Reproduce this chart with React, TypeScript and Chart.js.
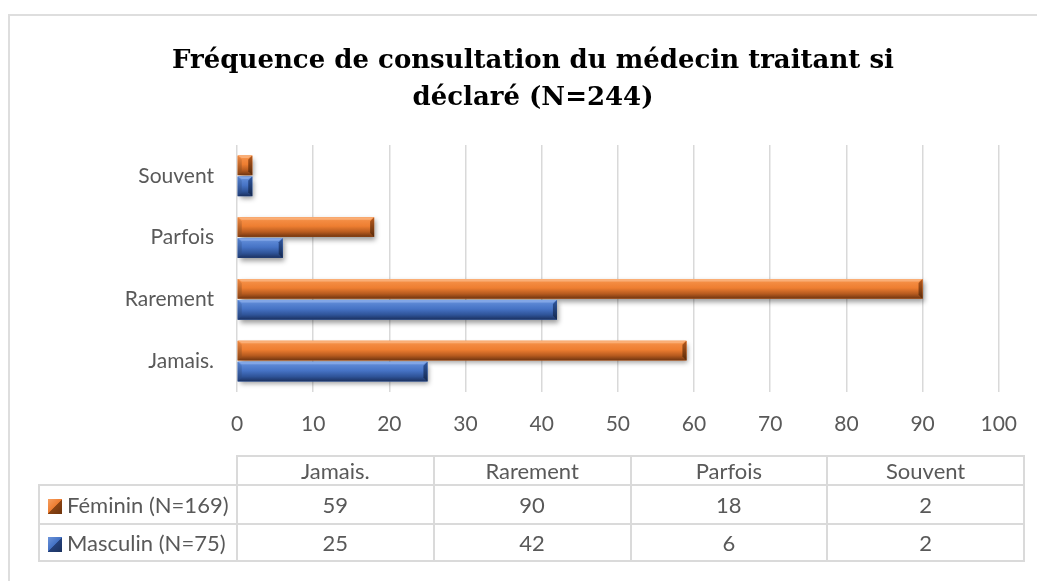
import React, { useEffect, useRef } from 'react';
import { Chart, registerables } from 'chart.js';

Chart.register(...registerables);

// ---------- data ----------
const categories = ['Jamais.', 'Rarement', 'Parfois', 'Souvent'];
const feminin = [59, 90, 18, 2];
const masculin = [25, 42, 6, 2];
const seriesNames = ['Féminin (N=169)', 'Masculin (N=75)'];
const titleLines = ['Fréquence de consultation du médecin traitant si', 'déclaré (N=244)'];
const xMin = 0;
const xMax = 100;
const xStep = 10;

// ---------- styles ----------
const LABEL_FONT = 'Lato';
const TEXT_COLOR = '#595959';
const GRID_COLOR = '#d9d9d9';

const palettes = [
  {
    main: '#ED7D31',
    topFacet: '#FAAE76',
    face: ['#F79A55', '#F38A40', '#EE7E31', '#B75B1F', '#703510'],
    side: ['#B65A1E', '#5A2A09'],
    leftSide: ['#F08840', '#8A4414'],
  },
  {
    main: '#4472C4',
    topFacet: '#82A6E6',
    face: ['#6E97DE', '#5884D2', '#4673C5', '#2F5499', '#1B3160'],
    side: ['#30579F', '#14284E'],
    leftSide: ['#5582D0', '#22407A'],
  },
];

const bevelPlugin = {
  id: 'bevel3d',
  beforeDatasetsDraw(chart: any) {
    const ctx = chart.ctx;
    ctx.save();
    ctx.shadowColor = 'rgba(0,0,0,0.4)';
    ctx.shadowBlur = 5;
    ctx.shadowOffsetX = 2;
    ctx.shadowOffsetY = 3;
  },
  afterDatasetsDraw(chart: any) {
    const ctx = chart.ctx;
    ctx.restore();
    chart.data.datasets.forEach((ds: any, di: number) => {
      const meta = chart.getDatasetMeta(di);
      if (meta.hidden) return;
      const pal = palettes[di];
      meta.data.forEach((el: any) => {
        const top = el.y - el.height / 2;
        const bot = el.y + el.height / 2;
        const left = Math.min(el.base, el.x);
        const right = Math.max(el.base, el.x);
        const w = right - left;
        const h = bot - top;
        if (w <= 0 || h <= 0) return;
        const b = Math.min(4, w / 3, h / 4);
        ctx.save();
        // main face
        const g = ctx.createLinearGradient(0, top, 0, bot);
        g.addColorStop(0, pal.face[0]);
        g.addColorStop(0.2, pal.face[1]);
        g.addColorStop(0.45, pal.face[2]);
        g.addColorStop(0.75, pal.face[3]);
        g.addColorStop(1, pal.face[4]);
        ctx.fillStyle = g;
        ctx.fillRect(left, top, w, h);
        // top facet
        ctx.fillStyle = pal.topFacet;
        ctx.beginPath();
        ctx.moveTo(left, top);
        ctx.lineTo(right, top);
        ctx.lineTo(right - b, top + 2.5);
        ctx.lineTo(left + b, top + 2.5);
        ctx.closePath();
        ctx.fill();
        // left facet
        const gl = ctx.createLinearGradient(0, top, 0, bot);
        gl.addColorStop(0, pal.leftSide[0]);
        gl.addColorStop(1, pal.leftSide[1]);
        ctx.fillStyle = gl;
        ctx.beginPath();
        ctx.moveTo(left, top);
        ctx.lineTo(left + b, top + b);
        ctx.lineTo(left + b, bot - b);
        ctx.lineTo(left, bot);
        ctx.closePath();
        ctx.fill();
        // right facet
        const gs = ctx.createLinearGradient(0, top, 0, bot);
        gs.addColorStop(0, pal.side[0]);
        gs.addColorStop(1, pal.side[1]);
        ctx.fillStyle = gs;
        ctx.beginPath();
        ctx.moveTo(right, top);
        ctx.lineTo(right, bot);
        ctx.lineTo(right - b, bot - b);
        ctx.lineTo(right - b, top + b);
        ctx.closePath();
        ctx.fill();
        ctx.restore();
      });
    });
  },
};

export default function App() {
  const canvasRef = useRef<HTMLCanvasElement | null>(null);

  useEffect(() => {
    if (!canvasRef.current) return;
    const chart = new Chart(canvasRef.current, {
      type: 'bar',
      data: {
        labels: categories,
        datasets: [
          {
            label: seriesNames[0],
            data: feminin,
            backgroundColor: palettes[0].main,
            borderWidth: 0,
            categoryPercentage: 0.68,
            barPercentage: 0.93,
          },
          {
            label: seriesNames[1],
            data: masculin,
            backgroundColor: palettes[1].main,
            borderWidth: 0,
            categoryPercentage: 0.68,
            barPercentage: 0.93,
          },
        ],
      },
      options: {
        indexAxis: 'y',
        responsive: false,
        animation: false,
        devicePixelRatio: 1,
        layout: { padding: { left: 60, right: 31, top: 16, bottom: 144 } },
        plugins: {
          legend: { display: false },
          tooltip: { enabled: false },
          title: {
            display: true,
            text: titleLines,
            color: '#000000',
            font: { family: 'DejaVu Serif', weight: 'bold', size: 26, lineHeight: 37 / 26 },
            padding: { top: 26.5, bottom: 28.5 },
          },
        },
        scales: {
          x: {
            min: xMin,
            max: xMax,
            ticks: {
              stepSize: xStep,
              color: TEXT_COLOR,
              font: { family: LABEL_FONT, size: 21 },
              padding: 20,
            },
            grid: { color: GRID_COLOR, lineWidth: 1.5, drawTicks: false },
            border: { display: false },
            afterFit: (s: any) => {
              s.height = 45;
            },
          },
          y: {
            reverse: true,
            ticks: {
              color: TEXT_COLOR,
              font: { family: LABEL_FONT, size: 21 },
              padding: 23,
            },
            grid: { display: false, drawTicks: false },
            border: { display: false },
            afterFit: (s: any) => {
              s.width = 177;
            },
          },
        },
      },
      plugins: [bevelPlugin],
    });
    return () => chart.destroy();
  }, []);

  const border = '2px solid #dadada';
  const cell: React.CSSProperties = {
    border,
    padding: 0,
    textAlign: 'center',
    verticalAlign: 'middle',
  };
  const legendCell: React.CSSProperties = {
    border,
    padding: '0 0 0 8px',
    textAlign: 'left',
    verticalAlign: 'middle',
    whiteSpace: 'nowrap',
  };
  const swatch = (i: number): React.CSSProperties => ({
    display: 'inline-block',
    width: 14,
    height: 15,
    marginRight: 5,
    verticalAlign: '-1px',
    background:
      i === 0
        ? 'linear-gradient(135deg, #F6A062 0%, #ED7D31 48%, #8A4312 52%, #6E340D 100%)'
        : 'linear-gradient(135deg, #6D95DB 0%, #4472C4 48%, #24407A 52%, #1B325E 100%)',
  });

  const rows = [feminin, masculin];

  return (
    <div
      style={{
        position: 'fixed',
        left: 0,
        top: 0,
        width: 1037,
        height: 581,
        background: '#ffffff',
        overflow: 'hidden',
      }}
    >
      <div
        style={{
          position: 'absolute',
          left: 8,
          top: 14,
          width: 1100,
          height: 700,
          border: '2px solid #dedede',
          boxSizing: 'border-box',
        }}
      />
      <canvas
        ref={canvasRef}
        width={1037}
        height={581}
        style={{ position: 'absolute', left: 0, top: 0 }}
      />
      <table
        style={{
          position: 'absolute',
          left: 38,
          top: 455,
          borderCollapse: 'collapse',
          tableLayout: 'fixed',
          width: 985,
          fontFamily: LABEL_FONT,
          fontSize: 22,
          color: TEXT_COLOR,
        }}
      >
        <colgroup>
          <col style={{ width: 198 }} />
          {categories.map((c) => (
            <col key={c} style={{ width: 196.75 }} />
          ))}
        </colgroup>
        <tbody>
          <tr style={{ height: 29 }}>
            <td style={{ border: 'none', padding: 0 }} />
            {categories.map((c) => (
              <td key={c} style={cell}>
                {c}
              </td>
            ))}
          </tr>
          {rows.map((r, i) => (
            <tr key={i} style={{ height: i === 0 ? 39 : 37 }}>
              <td style={legendCell}>
                <span style={swatch(i)} />
                {seriesNames[i]}
              </td>
              {r.map((v, j) => (
                <td key={j} style={cell}>
                  {v}
                </td>
              ))}
            </tr>
          ))}
        </tbody>
      </table>
    </div>
  );
}
